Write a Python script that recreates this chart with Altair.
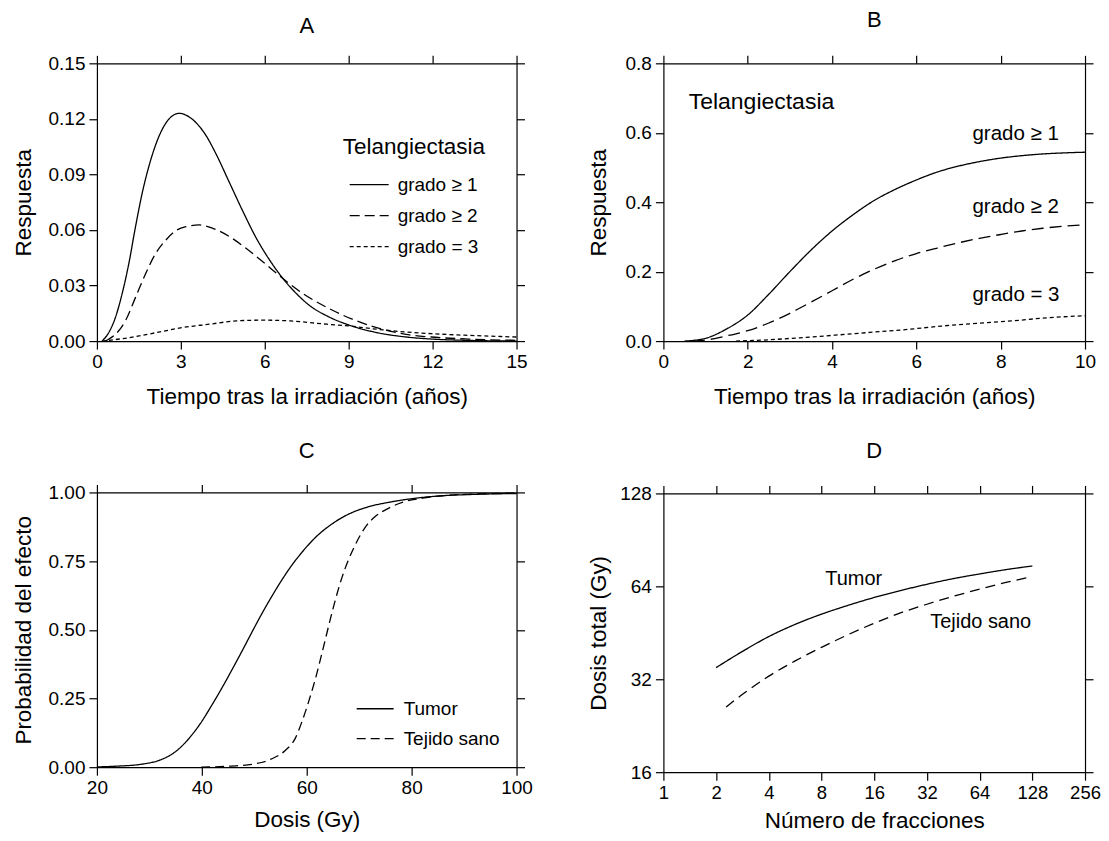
import altair as alt
import pandas as pd

FONT = "Liberation Sans"

# ---------------- Panel A: Telangiectasia, respuesta vs tiempo ----------------
a_g1_t = [0.18, 0.42, 0.66, 0.9, 1.14, 1.38, 1.62, 1.86, 2.1, 2.34, 2.58, 2.94, 3.3, 3.54, 3.9, 4.26, 4.74, 5.22, 5.7, 6.18, 6.66, 7.14, 7.62, 8.22, 9.0, 10.0, 11.05, 11.95, 13.2, 15]
a_g1_y = [0.0, 0.0045, 0.0127, 0.0255, 0.0418, 0.0618, 0.08, 0.0945, 0.106, 0.1145, 0.12, 0.123, 0.121, 0.118, 0.111, 0.101, 0.0855, 0.07, 0.0555, 0.0436, 0.0336, 0.0255, 0.019, 0.0136, 0.0087, 0.0046, 0.0022, 0.0011, 0.0004, 0.0]
a_g2_t = [0.3, 0.42, 0.66, 1.02, 1.38, 1.74, 2.1, 2.46, 2.82, 3.18, 3.66, 4.14, 4.74, 5.34, 5.94, 6.66, 7.38, 8.22, 9.13, 10.0, 11.05, 11.95, 13.24, 15]
a_g2_y = [0.0, 0.001, 0.0036, 0.011, 0.0236, 0.0364, 0.0473, 0.0545, 0.0596, 0.0618, 0.0627, 0.0609, 0.0564, 0.05, 0.0427, 0.0336, 0.0255, 0.0182, 0.0118, 0.0073, 0.0036, 0.0022, 0.0011, 0.0004]
a_g3_t = [0.18, 1.14, 2.1, 3.06, 4.02, 4.98, 5.94, 6.9, 8.22, 9.0, 10.0, 11.05, 11.95, 13.24, 15]
a_g3_y = [0.0, 0.0018, 0.0045, 0.0073, 0.0091, 0.0109, 0.0113, 0.0109, 0.0091, 0.0082, 0.0064, 0.0049, 0.004, 0.0031, 0.0022]

# ---------------- Panel B: respuesta acumulada ----------------
b_g1_t = [0.5, 1.0, 1.5, 2.0, 2.5, 3.0, 3.5, 4.0, 4.5, 5.0, 5.5, 6.0, 6.5, 7.0, 7.5, 8.0, 8.5, 9.0, 9.5, 10]
b_g1_y = [0.0, 0.008, 0.035, 0.075, 0.135, 0.2, 0.262, 0.317, 0.364, 0.405, 0.437, 0.464, 0.487, 0.504, 0.517, 0.527, 0.534, 0.539, 0.542, 0.544]
b_g2_t = [0.7, 1.0, 1.5, 2.0, 2.5, 3.0, 3.5, 4.0, 4.5, 5.0, 5.5, 6.0, 6.5, 7.0, 7.5, 8.0, 8.5, 9.0, 9.5, 10]
b_g2_y = [0.0, 0.003, 0.015, 0.03, 0.052, 0.08, 0.112, 0.145, 0.178, 0.207, 0.232, 0.252, 0.268, 0.283, 0.296, 0.307, 0.317, 0.325, 0.331, 0.335]
b_g3_t = [1.72, 2.39, 3.23, 4.07, 4.9, 5.74, 6.58, 7.42, 8.26, 9.09, 10]
b_g3_y = [0.0, 0.003, 0.0095, 0.017, 0.025, 0.033, 0.043, 0.051, 0.058, 0.067, 0.073]

# ---------------- Panel C: probabilidad vs dosis ----------------
c_tum_d = [20, 24.1, 28.2, 32.3, 34.2, 36.04, 37.96, 39.87, 41.79, 43.7, 45.62, 47.54, 49.46, 51.37, 53.29, 55.21, 57.12, 59.04, 61.6, 64.79, 67.99, 71.82, 75.65, 80.77, 85.88, 92, 100]
c_tum_p = [0.001, 0.004, 0.01, 0.028, 0.046, 0.074, 0.114, 0.163, 0.222, 0.284, 0.35, 0.418, 0.488, 0.556, 0.62, 0.68, 0.734, 0.781, 0.835, 0.885, 0.921, 0.948, 0.964, 0.979, 0.988, 0.993, 0.996]
c_san_d = [39.87, 45.62, 50.1, 53.29, 55.85, 57.76, 59.04, 60.32, 61.6, 62.88, 64.15, 65.43, 66.71, 67.99, 69.27, 71.18, 73.1, 75.65, 78.21, 82.04, 85.88, 92, 100]
c_san_p = [0.0, 0.004, 0.012, 0.03, 0.06, 0.103, 0.163, 0.236, 0.318, 0.413, 0.512, 0.607, 0.69, 0.756, 0.81, 0.874, 0.913, 0.943, 0.964, 0.979, 0.988, 0.994, 0.998]

# ---------------- Panel D: dosis total vs número de fracciones ----------------
d_tum_n = [2, 2.83, 4, 5.66, 8, 11.3, 16, 22.6, 32, 45.3, 64, 90.5, 128]
d_tum_g = [34.9, 39.4, 44.0, 48.2, 52.0, 55.5, 58.9, 62.0, 65.0, 67.8, 70.2, 72.5, 74.5]
d_san_n = [2.28, 2.83, 4, 5.66, 8, 11.3, 16, 22.6, 32, 45.3, 64, 90.5, 123]
d_san_g = [26.0, 28.6, 32.75, 36.7, 40.6, 44.6, 48.6, 52.5, 56.0, 59.4, 62.7, 65.9, 68.5]

# series names / labels
A_SERIES = ["grado \u2265 1", "grado \u2265 2", "grado = 3"]
C_SERIES = ["Tumor", "Tejido sano"]

# axis tick values
a_xticks = [0, 3, 6, 9, 12, 15]
a_yticks = [0, 0.03, 0.06, 0.09, 0.12, 0.15]
b_xticks = [0, 2, 4, 6, 8, 10]
b_yticks = [0, 0.2, 0.4, 0.6, 0.8]
c_xticks = [20, 40, 60, 80, 100]
c_yticks = [0, 0.25, 0.5, 0.75, 1.0]
d_xticks = [1, 2, 4, 8, 16, 32, 64, 128, 256]
d_yticks = [16, 32, 64, 128]

# text annotations (panel B and D)
b_ann_title = pd.DataFrame({"x": [0.6], "y": [0.69], "label": ["Telangiectasia"]})
b_ann_lab = pd.DataFrame({"x": [7.33, 7.33, 7.33], "y": [0.597, 0.385, 0.132], "label": A_SERIES})
d_ann = pd.DataFrame({"x": [8.4, 33.4], "y": [67.5, 48.9], "label": ["Tumor", "Tejido sano"]})


def long_df(series):
    rows = []
    for name, xs, ys in series:
        for x, y in zip(xs, ys):
            rows.append({"serie": name, "x": x, "y": y})
    return pd.DataFrame(rows)


AX = dict(grid=False, domainColor="black", tickColor="black", labelColor="black",
          titleColor="black", domainWidth=1.2, tickWidth=1.2, tickSize=8,
          labelFont=FONT, titleFont=FONT, titleFontSize=22.5,
          titleFontWeight="normal", labelFlush=False, labelOverlap=False)


def make_panel(df, xscale, yscale, xvals, yvals, xfmt, yfmt, xtitle, ytitle,
               dash_dom, dash_rng, legend, width, height, title, title_offset,
               ytitle_x, xtitle_y, xlabel_size=19, annotations=()):
    bottom = alt.Axis(orient="bottom", values=xvals, format=xfmt, title=xtitle,
                      labelPadding=3, labelFontSize=xlabel_size, titleY=xtitle_y,
                      titleBaseline="alphabetic", **AX)
    left = alt.Axis(orient="left", values=yvals, format=yfmt, title=ytitle,
                    labelPadding=4, labelFontSize=19, titleX=ytitle_x,
                    titleBaseline="middle", **AX)
    top = alt.Axis(orient="top", values=xvals, labels=False, title=None, **AX)
    right = alt.Axis(orient="right", values=yvals, labels=False, title=None, **AX)

    lines = alt.Chart(df).mark_line(color="black", strokeWidth=1.3, interpolate="monotone").encode(
        x=alt.X("x:Q", scale=xscale, axis=bottom),
        y=alt.Y("y:Q", scale=yscale, axis=left),
        strokeDash=alt.StrokeDash("serie:N", scale=alt.Scale(domain=dash_dom, range=dash_rng),
                                  legend=legend),
    )
    frame = alt.Chart(df).mark_point(opacity=0).encode(
        x=alt.X("x:Q", scale=xscale, axis=top),
        y=alt.Y("y:Q", scale=yscale, axis=right),
    )
    layers = [lines, frame]
    for adf, size in annotations:
        layers.append(
            alt.Chart(adf).mark_text(align="left", baseline="middle", font=FONT,
                                     fontSize=size, color="black").encode(
                x=alt.X("x:Q", scale=xscale, axis=None),
                y=alt.Y("y:Q", scale=yscale, axis=None),
                text="label:N",
            )
        )
    return alt.layer(*layers).resolve_axis(x="independent", y="independent").properties(
        width=width, height=height,
        title=alt.TitleParams(title, font=FONT, fontSize=22, fontWeight="normal",
                              color="black", offset=title_offset, anchor="middle"),
    )


df_a = long_df([(A_SERIES[0], a_g1_t, a_g1_y), (A_SERIES[1], a_g2_t, a_g2_y), (A_SERIES[2], a_g3_t, a_g3_y)])
df_b = long_df([(A_SERIES[0], b_g1_t, b_g1_y), (A_SERIES[1], b_g2_t, b_g2_y), (A_SERIES[2], b_g3_t, b_g3_y)])
df_c = long_df([(C_SERIES[0], c_tum_d, c_tum_p), (C_SERIES[1], c_san_d, c_san_p)])
df_d = long_df([(C_SERIES[0], d_tum_n, d_tum_g), (C_SERIES[1], d_san_n, d_san_g)])

LINE_SYMBOL = "M-1,0L1,0"

legend_a = alt.Legend(title="Telangiectasia", orient="none", legendX=246, legendY=73,
                      symbolType=LINE_SYMBOL, symbolSize=1521, symbolStrokeWidth=1.3,
                      symbolStrokeColor="black", labelFont=FONT, labelFontSize=19,
                      titleFont=FONT, titleFontSize=22.5, titleFontWeight="normal",
                      titlePadding=5.5, rowPadding=-6.5, labelOffset=8, symbolOffset=6,
                      labelColor="black", titleColor="black", titleAnchor="start")
legend_c = alt.Legend(title=None, orient="none", legendX=259, legendY=197,
                      symbolType=LINE_SYMBOL, symbolSize=1369, symbolStrokeWidth=1.3,
                      symbolStrokeColor="black", labelFont=FONT, labelFontSize=19,
                      rowPadding=-3.5, labelOffset=9, labelColor="black")

panel_a = make_panel(df_a, alt.Scale(domain=[0, 15], nice=False, zero=False),
                     alt.Scale(domain=[0, 0.15], nice=False, zero=False),
                     a_xticks, a_yticks, "d", ".2f",
                     "Tiempo tras la irradiación (años)", "Respuesta",
                     A_SERIES, [[1, 0], [10, 5], [4, 3]], legend_a, 420, 278, "A", 16, -73, 62)
panel_b = make_panel(df_b, alt.Scale(domain=[0, 10], nice=False, zero=False),
                     alt.Scale(domain=[0, 0.8], nice=False, zero=False),
                     b_xticks, b_yticks, "d", ".1f",
                     "Tiempo tras la irradiación (años)", "Respuesta",
                     A_SERIES, [[1, 0], [12, 6], [4, 3]], None, 422, 278, "B", 22.5, -65, 62,
                     annotations=[(b_ann_title, 23), (b_ann_lab, 20.5)])
panel_c = make_panel(df_c, alt.Scale(domain=[20, 100], nice=False, zero=False),
                     alt.Scale(domain=[0, 1], nice=False, zero=False),
                     c_xticks, c_yticks, "d", ".2f",
                     "Dosis (Gy)", "Probabilidad del efecto",
                     C_SERIES, [[1, 0], [9, 5]], legend_c, 420, 275, "C", 20, -73, 59)
panel_d = make_panel(df_d, alt.Scale(type="log", base=2, domain=[1, 256], nice=False),
                     alt.Scale(type="log", base=2, domain=[16, 128], nice=False),
                     d_xticks, d_yticks, "d", "d",
                     "Número de fracciones", "Dosis total (Gy)",
                     C_SERIES, [[1, 0], [10, 6]], None, 422, 279, "D", 21, -65, 55,
                     xlabel_size=18.5, annotations=[(d_ann, 20)])

chart = alt.concat(
    panel_a, panel_b, panel_c, panel_d, columns=2,
    align={"row": "none", "column": "each"},
    spacing={"row": 32.5, "column": 54},
).resolve_scale(strokeDash="independent").configure(
    font=FONT, padding={"left": 4, "top": 0, "right": 0, "bottom": 0}
).configure_view(strokeWidth=0)

chart.save("out.html", embed_options={"renderer": "svg", "actions": False})
